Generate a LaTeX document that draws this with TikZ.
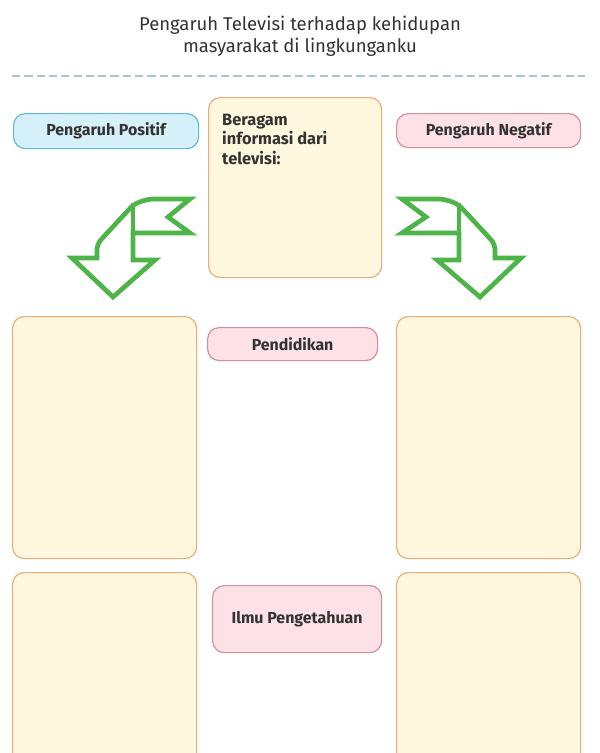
\documentclass[tikz,border=0pt]{standalone}
\usepackage{fontspec}
\setmainfont{Fira Sans}
\usepackage{xcolor}
\usetikzlibrary{positioning}

\definecolor{krem}{HTML}{FFF7DE}
\definecolor{kremtepi}{HTML}{E9AD7C}
\definecolor{biru}{HTML}{D5F0F8}
\definecolor{birutepi}{HTML}{62B9D5}
\definecolor{merah}{HTML}{FCE1E6}
\definecolor{merahtepi}{HTML}{D58C9C}
\definecolor{hijau}{HTML}{4DB547}
\definecolor{garisbiru}{HTML}{A8C7DC}
\definecolor{teks}{HTML}{333333}

\begin{document}
\begin{tikzpicture}[x=0.03cm,y=-0.03cm,text=teks]
  \tikzstyle{kotak}=[draw=kremtepi,fill=krem,line width=1pt,rounded corners=10pt,
                     anchor=north west,inner sep=0pt]
  \tikzstyle{label}=[line width=1pt,rounded corners=10pt,anchor=north west,
                     font=\fontsize{13.6}{16}\selectfont\bfseries]
  \tikzstyle{positif}=[label,draw=birutepi,fill=biru]
  \tikzstyle{negatif}=[label,draw=merahtepi,fill=merah]
  \tikzstyle{panah}=[draw=hijau,fill=white,line width=4pt,line join=miter]

  \clip (0,0) rectangle (600,753);
  \fill[white] (0,0) rectangle (600,753);

  % judul
  \node[align=center,font=\fontsize{15.8}{19}\selectfont] (judul) at (300,36)
       {Pengaruh Televisi terhadap kehidupan\\masyarakat di lingkunganku};
  \draw[garisbiru,line width=1.6pt,dash pattern=on 7pt off 3.5pt] (12,76) -- (585,76);

  % baris atas
  \node[positif,minimum width=5.55cm,minimum height=1.05cm] (pos) at (13,113) {Pengaruh Positif};
  \node[kotak,minimum width=5.19cm,minimum height=5.4cm] (info) at (208,97) {};
  \node[anchor=north west,align=left,inner sep=0pt,
        font=\fontsize{14}{16.5}\selectfont\bfseries] (infoteks) at (222,114)
       {Beragam\\informasi dari\\televisi:};
  \node[negatif,minimum width=5.52cm,minimum height=1.02cm] (neg) at (396,113) {Pengaruh Negatif};

  % panah kiri
  \draw[panah] (190,199) -- (168,217) -- (190,233) -- (133,233) -- (133,260) -- (155,260)
     -- (113,297) -- (72,258) -- (97,258) [rounded corners=5pt] -- (97,244) -- (134,204)
     -- (148,199) [sharp corners] -- cycle;
  \draw[panah] (133,233) -- (133,203);

  % panah kanan
  \draw[panah] (402,199) -- (426,217) -- (402,233) -- (459,233) -- (459,260) -- (437,260)
     -- (480,297) -- (521,258) -- (495,258) [rounded corners=5pt] -- (495,244) -- (458,204)
     -- (444,199) [sharp corners] -- cycle;
  \draw[panah] (459,233) -- (459,203);

  % baris tengah
  \node[kotak,minimum width=5.52cm,minimum height=7.26cm] (kiri2) at (12,316) {};
  \node[negatif,minimum width=5.1cm,minimum height=0.99cm] (didik) at (207,327) {Pendidikan};
  \node[kotak,minimum width=5.52cm,minimum height=7.26cm] (kanan2) at (396,316) {};

  % baris bawah
  \node[kotak,minimum width=5.52cm,minimum height=6.6cm] (kiri3) at (12,572) {};
  \node[negatif,minimum width=5.07cm,minimum height=2.01cm] (ilmu) at (212,585) {Ilmu Pengetahuan};
  \node[kotak,minimum width=5.52cm,minimum height=6.6cm] (kanan3) at (396,572) {};
\end{tikzpicture}
\end{document}
